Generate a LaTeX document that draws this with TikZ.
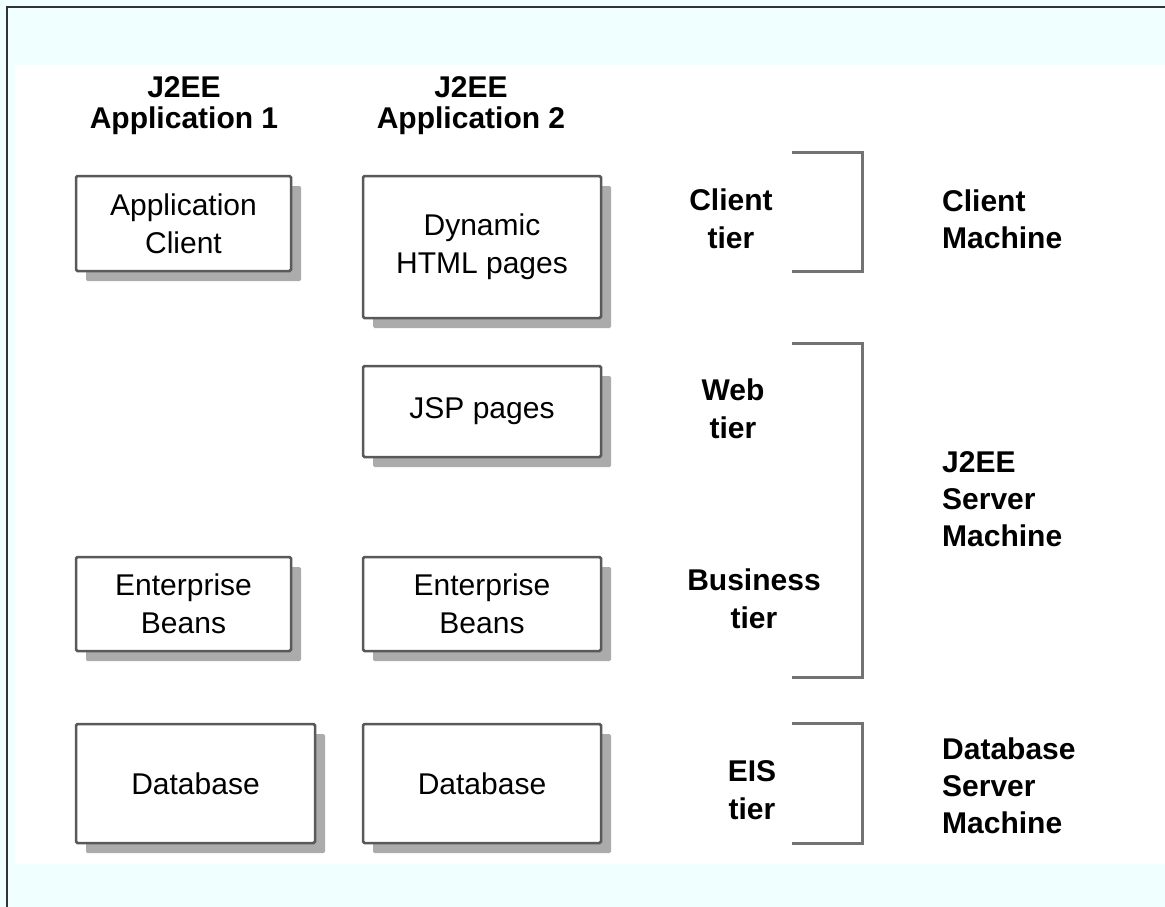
\documentclass[tikz,border=0pt]{standalone}
\usepackage{fontspec}
\setmainfont{Liberation Sans}
\usetikzlibrary{shadows}
\definecolor{paleblue}{RGB}{240,255,255}
\begin{document}
\begin{tikzpicture}[x=1pt,y=-1pt,
	tierbox/.style={draw=black!65, line width=2.5pt, fill=white, rounded corners=1.5pt, align=center, inner sep=0pt, font=\fontsize{30}{38}\selectfont, drop shadow={shadow xshift=10pt, shadow yshift=-10pt, fill=black!33, opacity=1}},
	appname/.style={align=center, inner sep=0pt, font=\bfseries\fontsize{30}{31}\selectfont},
	tiername/.style={align=center, inner sep=0pt, font=\bfseries\fontsize{30}{38}\selectfont},
	machinename/.style={anchor=west, align=left, inner sep=0pt, font=\bfseries\fontsize{30}{37}\selectfont},
	bracket/.style={draw=black!55, line width=3pt}]
	\pgfmathsetmacro{\bl}{792}
	\pgfmathsetmacro{\br}{862}
	\useasboundingbox (0,0) rectangle (1165,907);
	\fill[paleblue] (0,0) rectangle (1165,907);
	\fill[white] (15,65) rectangle (1165,864);
	\draw[black!80, line width=2pt] (7,907) -- (7,7) -- (1165,7);
	\node[appname] (app1) at (184,106) {J2EE\\Application 1};
	\node[appname] (app2) at (471,106) {J2EE\\Application 2};
	\node[tierbox, minimum width=215pt, minimum height=95pt] (client1) at (183.5,223.5) {Application\\Client};
	\node[tierbox, minimum width=238pt, minimum height=142pt] (html2) at (482,247) {Dynamic\\HTML pages};
	\node[tierbox, minimum width=238pt, minimum height=91pt] (jsp2) at (482,411.5) {JSP pages};
	\node[tierbox, minimum width=215pt, minimum height=94pt] (beans1) at (183.5,604) {Enterprise\\Beans};
	\node[tierbox, minimum width=238pt, minimum height=94pt] (beans2) at (482,604) {Enterprise\\Beans};
	\node[tierbox, minimum width=239pt, minimum height=119pt] (db1) at (195.5,783.5) {Database};
	\node[tierbox, minimum width=238pt, minimum height=119pt] (db2) at (482,783.5) {Database};
	\node[tiername] (clienttier) at (731,219) {Client\\tier};
	\node[tiername] (webtier) at (733,409) {Web\\tier};
	\node[tiername] (businesstier) at (754,599) {Business\\tier};
	\node[tiername] (eistier) at (752,790) {EIS\\tier};
	\foreach \t/\b in {152/271, 343/677, 723/843}
		\draw[bracket] (\bl,\t) -- (\br,\t) -- (\br,\b) -- (\bl,\b);
	\node[machinename] (clientmachine) at (942,219) {Client\\Machine};
	\node[machinename] (servermachine) at (942,499) {J2EE\\Server\\Machine};
	\node[machinename] (dbmachine) at (942,786) {Database\\Server\\Machine};
\end{tikzpicture}
\end{document}
